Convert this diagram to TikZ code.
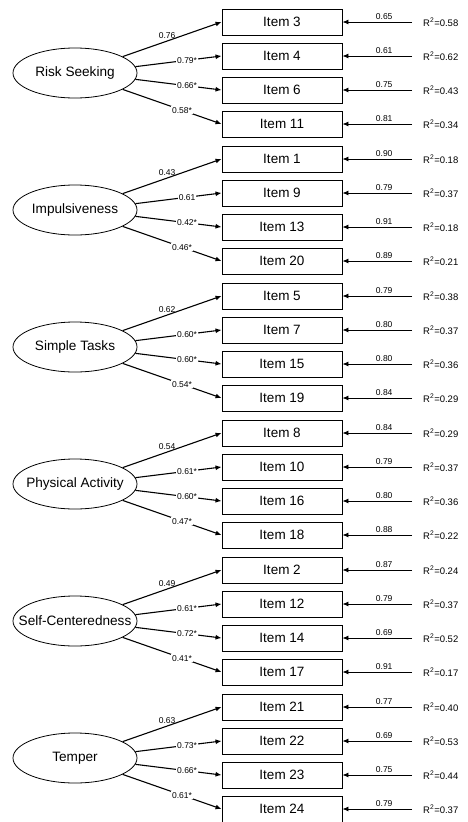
\documentclass[tikz,border=0pt]{standalone}
\usepackage{fontspec}
\setsansfont{Liberation Sans}
\usepackage{tikz}
\usetikzlibrary{shapes.geometric, arrows.meta, positioning, calc}

\begin{document}
\begin{tikzpicture}[x=1pt, y=-1pt, font=\sffamily,
    factor/.style={ellipse, draw, line width=0.8pt, minimum width=124pt, minimum height=50pt,
      inner sep=0pt, font=\sffamily\fontsize{13.6}{15}\selectfont},
    item/.style={rectangle, draw, line width=0.9pt, minimum width=120pt, minimum height=26pt,
      inner sep=0pt, font=\sffamily\fontsize{13.5}{15}\selectfont},
    load/.style={font=\sffamily\fontsize{8.5}{9}\selectfont, inner sep=1pt},
    loadtop/.style={load, pos=0.45, above=1pt},
    loadmid/.style={load, pos=0.6, fill=white},
    rsq/.style={font=\sffamily\fontsize{9.5}{10}\selectfont, inner sep=0pt, anchor=west},
    path/.style={-{Latex[length=6pt, width=5pt]}, line width=1.1pt},
    errpath/.style={-{Latex[length=6pt, width=5pt]}, line width=0.9pt}]

  \useasboundingbox (0,0) rectangle (468,822);

  \foreach \g/\fac/\items in {
      0/Risk Seeking/{3/0.76/0.65/0.58, 4/0.79*/0.61/0.62, 6/0.66*/0.75/0.43, 11/0.58*/0.81/0.34},
      1/Impulsiveness/{1/0.43/0.90/0.18, 9/0.61/0.79/0.37, 13/0.42*/0.91/0.18, 20/0.46*/0.89/0.21},
      2/Simple Tasks/{5/0.62/0.79/0.38, 7/0.60*/0.80/0.37, 15/0.60*/0.80/0.36, 19/0.54*/0.84/0.29},
      3/Physical Activity/{8/0.54/0.84/0.29, 10/0.61*/0.79/0.37, 16/0.60*/0.80/0.36, 18/0.47*/0.88/0.22},
      4/Self-Centeredness/{2/0.49/0.87/0.24, 12/0.61*/0.79/0.37, 14/0.72*/0.69/0.52, 17/0.41*/0.91/0.17},
      5/Temper/{21/0.63/0.77/0.40, 22/0.73*/0.69/0.53, 23/0.66*/0.75/0.44, 24/0.61*/0.79/0.37}} {
    \pgfmathsetmacro\gy{22+137*\g}
    \node (f\g) [factor] at (75, \gy+51) {\makebox[0pt]{\fac}};
    \foreach \num/\ld/\er/\rs [count=\j from 0] in \items {
      \pgfmathsetmacro\iy{\gy+34*\j}
      \pgfmathtruncatemacro\ang{19-38*\j/3}
      \ifnum\j=0 \tikzset{lbl/.style={loadtop}}\else\tikzset{lbl/.style={loadmid}}\fi
      \node (i\g-\j) [item] at (282, \iy) {Item \num};
      \coordinate (e\g-\j) at (412, \iy);
      \node (r\g-\j) [rsq] at (423, \iy) {R\textsuperscript{2}=\rs};
      \draw [path] (f\g.\ang) -- (i\g-\j.west) node [lbl] {\ld};
      \draw [errpath] (e\g-\j) -- (i\g-\j.east) node [load, pos=0.4, above=1pt] {\er};
    }
  }
\end{tikzpicture}
\end{document}
